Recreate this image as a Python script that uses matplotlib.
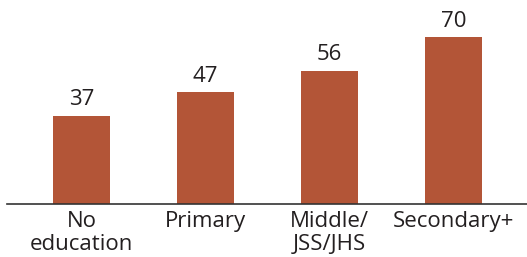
import matplotlib.pyplot as plt
import numpy as np

plt.rcParams['font.family'] = ['Open Sans', 'DejaVu Sans']

categories = ['No\neducation', 'Primary', 'Middle/\nJSS/JHS', 'Secondary+']
values = [37, 47, 56, 70]

bar_color = '#B35537'
text_color = '#231F20'

fig = plt.figure(figsize=(5.27, 2.57), dpi=100)
ax = fig.add_axes([0, 53 / 257, 1, 204 / 257])

x = np.arange(len(categories))
rects = ax.bar(x, values, width=0.46, color=bar_color, zorder=1)

for r, v in zip(rects, values):
    ax.annotate(
        f'{v}', xy=(r.get_x() + r.get_width() / 2, r.get_height()),
        xytext=(0, 4), textcoords='offset points',
        ha='center', va='bottom', size=16, color=text_color
    )

x0 = -81.5 / 124
x1 = (527 - 81.5) / 124
ax.set_xlim(x0, x1)
ax.set_ylim(0, 204 / 2.38)
ax.set_xticks(x)
ax.set_xticklabels(categories, size=16, color=text_color, linespacing=1.15)
ax.tick_params(axis='x', length=0, pad=5)
ax.set_yticks([])

for side in ['top', 'left', 'right']:
    ax.spines[side].set_visible(False)
ax.spines['bottom'].set_color('#333333')
ax.spines['bottom'].set_linewidth(1.2)
ax.spines['bottom'].set_zorder(3)
ax.spines['bottom'].set_bounds(x0 + 7 / 124, x1)

fig.savefig('out.png', dpi=100)
